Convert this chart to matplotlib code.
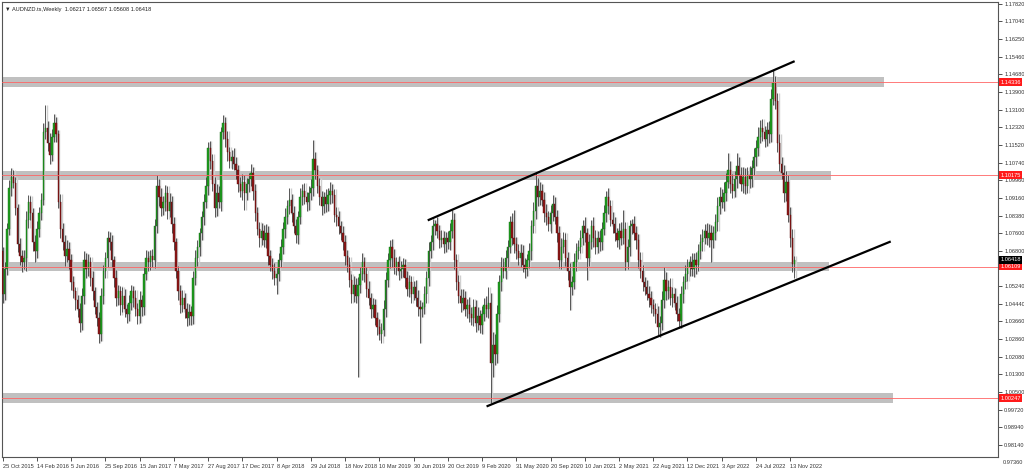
import matplotlib.pyplot as plt
import numpy as np
import pandas as pd

# AUDNZD weekly candles (open = previous close)
title = "\u25bc AUDNZD.ts,Weekly  1.06217 1.06567 1.05608 1.06418"
first_date = "2015-10-25"
first_open = 1.0680

closes = [
    1.0490, 1.0600, 1.0780, 1.0960, 1.1010, 1.0985, 1.0870, 1.0710, 1.0660, 1.0630,
    1.0650, 1.0820, 1.0900, 1.0850, 1.0720, 1.0680, 1.0780, 1.0850, 1.0910, 1.1210,
    1.1230, 1.1160, 1.1110, 1.1190, 1.1250, 1.1200, 1.0900, 1.0780, 1.0720, 1.0660,
    1.0690, 1.0640, 1.0540, 1.0500, 1.0460, 1.0420, 1.0360, 1.0480, 1.0640, 1.0600,
    1.0630, 1.0560, 1.0500, 1.0430, 1.0380, 1.0310, 1.0480, 1.0590, 1.0650, 1.0740,
    1.0720, 1.0640, 1.0560, 1.0470, 1.0500, 1.0440, 1.0480, 1.0420, 1.0400, 1.0450,
    1.0500, 1.0470, 1.0420, 1.0390, 1.0460, 1.0430, 1.0580, 1.0650, 1.0630, 1.0660,
    1.0640, 1.0790, 1.0970, 1.0920, 1.0870, 1.0900, 1.0940, 1.0860, 1.0900, 1.0800,
    1.0720, 1.0590, 1.0500, 1.0440, 1.0470, 1.0420, 1.0380, 1.0410, 1.0390, 1.0560,
    1.0650, 1.0700, 1.0760, 1.0830, 1.0900, 1.0970, 1.1140, 1.1080, 1.0980, 1.0870,
    1.0940, 1.0900, 1.1210, 1.1250, 1.1180, 1.1120, 1.1080, 1.1100, 1.1070, 1.1040,
    1.0980, 1.0950, 1.0990, 1.0940, 1.0980, 1.1000, 1.1030, 1.0950, 1.0850, 1.0780,
    1.0740, 1.0770, 1.0730, 1.0760, 1.0660, 1.0620, 1.0590, 1.0560, 1.0580, 1.0640,
    1.0700, 1.0780, 1.0830, 1.0880, 1.0910, 1.0850, 1.0790, 1.0750, 1.0830, 1.0920,
    1.0950, 1.0920, 1.0900, 1.0940, 1.0960, 1.1090, 1.1040, 1.0970, 1.0920, 1.0880,
    1.0920, 1.0890, 1.0930, 1.0950, 1.0930, 1.0840, 1.0830, 1.0790, 1.0760, 1.0720,
    1.0660, 1.0620, 1.0550, 1.0490, 1.0530, 1.0480, 1.0530, 1.0580, 1.0630, 1.0580,
    1.0510, 1.0470, 1.0420, 1.0440, 1.0380, 1.0340, 1.0310, 1.0330, 1.0420, 1.0550,
    1.0640, 1.0700, 1.0650, 1.0610, 1.0630, 1.0590, 1.0600, 1.0620, 1.0560, 1.0510,
    1.0540, 1.0490, 1.0520, 1.0470, 1.0430, 1.0420, 1.0430, 1.0490, 1.0560, 1.0680,
    1.0720, 1.0790, 1.0800, 1.0770, 1.0730, 1.0740, 1.0710, 1.0740, 1.0720, 1.0770,
    1.0820, 1.0640, 1.0540, 1.0480, 1.0450, 1.0470, 1.0420, 1.0440, 1.0400, 1.0380,
    1.0430, 1.0360, 1.0390, 1.0350, 1.0400, 1.0440, 1.0420, 1.0450, 1.0180, 1.0260,
    1.0220, 1.0400, 1.0540, 1.0610, 1.0590, 1.0650, 1.0700, 1.0810, 1.0740, 1.0710,
    1.0680, 1.0650, 1.0670, 1.0620, 1.0600, 1.0640, 1.0680, 1.0790, 1.0860, 1.0970,
    1.0920, 1.0950, 1.0910, 1.0850, 1.0830, 1.0800, 1.0850, 1.0890, 1.0830, 1.0760,
    1.0640, 1.0700, 1.0730, 1.0650, 1.0590, 1.0520, 1.0540, 1.0630, 1.0680, 1.0700,
    1.0740, 1.0790, 1.0760, 1.0650, 1.0720, 1.0790, 1.0740, 1.0700, 1.0740, 1.0720,
    1.0780, 1.0850, 1.0920, 1.0880, 1.0820, 1.0800, 1.0760, 1.0730, 1.0770, 1.0740,
    1.0780, 1.0630, 1.0700, 1.0790, 1.0800, 1.0760, 1.0730, 1.0640, 1.0590, 1.0540,
    1.0520, 1.0490, 1.0470, 1.0440, 1.0420, 1.0400, 1.0340, 1.0360, 1.0460, 1.0550,
    1.0500, 1.0520, 1.0470, 1.0490, 1.0450, 1.0400, 1.0370, 1.0490, 1.0540, 1.0580,
    1.0610, 1.0630, 1.0600, 1.0640, 1.0620, 1.0680, 1.0720, 1.0740, 1.0770, 1.0740,
    1.0760, 1.0730, 1.0760, 1.0810, 1.0880, 1.0920, 1.0900, 1.0940, 1.0990, 1.1040,
    1.0980, 1.0950, 1.1000, 1.1060, 1.1020, 1.0980, 1.1010, 1.0970, 1.1020, 1.1000,
    1.1050, 1.1100, 1.1140, 1.1190, 1.1230, 1.1210, 1.1180, 1.1220, 1.1200, 1.1360,
    1.1430, 1.1350, 1.1160, 1.1070, 1.1030, 1.0940, 1.0990, 1.0840, 1.0740, 1.06217,
    1.06418,
]

# upper / lower shadow length of each candle, in pips
wick_up = [
    20, 30, 25, 35, 40, 30, 25, 20, 30, 25,  35, 40, 30, 25, 20, 30, 35, 25, 30, 40,
    100, 30, 45, 35, 40, 30, 20, 35, 25, 30,  40, 30, 25, 30, 20, 25, 30, 35, 40, 30,
    35, 25, 30, 20, 25, 30, 35, 30, 25, 30,  25, 30, 20, 35, 30, 25, 40, 30, 25, 35,
    30, 25, 35, 30, 40, 25, 30, 35, 30, 25,  30, 35, 50, 30, 40, 25, 35, 30, 40, 25,
    30, 20, 25, 30, 35, 25, 30, 35, 25, 30,  35, 30, 25, 30, 35, 40, 25, 30, 35, 30,
    40, 30, 25, 37, 30, 35, 25, 30, 40, 30,  25, 30, 35, 30, 25, 30, 40, 25, 30, 25,
    30, 35, 25, 40, 30, 25, 30, 35, 25, 30,  35, 30, 40, 30, 50, 25, 30, 35, 30, 40,
    30, 35, 25, 30, 40, 85, 30, 25, 35, 30,  25, 35, 30, 40, 30, 25, 35, 30, 25, 30,
    30, 25, 35, 30, 40, 30, 35, 30, 40, 25,  30, 35, 25, 30, 25, 30, 35, 30, 40, 35,
    30, 30, 35, 40, 25, 30, 35, 30, 25, 30,  35, 30, 25, 30, 35, 30, 25, 35, 30, 40,
    30, 35, 20, 30, 25, 35, 30, 25, 30, 35,  43, 30, 25, 35, 30, 40, 30, 25, 35, 30,
    35, 30, 40, 25, 35, 30, 40, 70, 45, 60,  50, 40, 35, 45, 40, 35, 30, 25, 40, 123,
    35, 30, 40, 35, 30, 25, 35, 30, 40, 58,  35, 40, 30, 35, 40, 30, 35, 40, 30, 35,
    30, 40, 35, 30, 25, 35, 30, 40, 35, 30,  35, 30, 40, 25, 35, 30, 40, 35, 30, 35,
    30, 35, 30, 40, 30, 35, 30, 25, 35, 40,  83, 30, 35, 30, 25, 35, 30, 25, 35, 30,
    25, 30, 35, 30, 25, 30, 35, 30, 40, 60,  35, 30, 40, 30, 25, 30, 25, 35, 30, 40,
    35, 30, 40, 30, 35, 30, 35, 40, 30, 35,  40, 35, 30, 35, 40, 45, 35, 50, 40, 77,
    40, 45, 35, 57, 40, 35, 45, 40, 35, 40,  35, 40, 35, 45, 35, 40, 30, 35, 40, 45,
    58, 30, 35, 40, 30, 35, 45, 30, 35, 40, 15,
]
wick_dn = [
    40, 30, 25, 30, 35, 25, 30, 35, 40, 45,  30, 60, 35, 30, 40, 50, 30, 35, 30, 25,
    30, 35, 40, 30, 25, 35, 30, 40, 35, 45,  30, 40, 35, 30, 45, 35, 40, 30, 35, 40,
    30, 35, 40, 30, 35, 40, 30, 35, 30, 40,  35, 30, 40, 35, 30, 45, 30, 35, 40, 30,
    35, 40, 30, 35, 30, 40, 35, 30, 40, 35,  30, 35, 30, 40, 35, 30, 40, 35, 30, 40,
    35, 30, 40, 35, 30, 40, 35, 30, 40, 35,  30, 35, 40, 30, 35, 30, 40, 35, 30, 40,
    35, 30, 40, 30, 35, 40, 30, 35, 30, 40,  35, 30, 40, 77, 30, 35, 30, 40, 35, 30,
    40, 35, 30, 35, 40, 30, 35, 30, 70, 35,  30, 35, 40, 30, 35, 40, 30, 35, 40, 30,
    35, 30, 40, 35, 30, 35, 40, 30, 35, 40,  30, 35, 30, 40, 35, 30, 40, 35, 30, 35,
    40, 35, 30, 40, 35, 30, 362, 35, 30, 40,  35, 30, 40, 35, 30, 35, 27, 40, 30, 35,
    30, 35, 40, 30, 35, 40, 30, 35, 40, 30,  35, 40, 30, 35, 40, 150, 35, 30, 40, 35,
    30, 35, 40, 30, 35, 30, 40, 35, 30, 35,  30, 40, 35, 30, 40, 35, 30, 40, 35, 30,
    35, 40, 30, 35, 40, 30, 35, 40, 178, 60,  50, 40, 35, 40, 30, 35, 40, 30, 35, 40,
    35, 30, 40, 35, 40, 30, 35, 40, 30, 35,  40, 35, 30, 40, 35, 30, 40, 35, 30, 40,
    35, 40, 30, 35, 40, 103, 35, 30, 40, 35,  30, 35, 40, 100, 35, 30, 40, 35, 30, 40,
    35, 30, 40, 35, 30, 40, 35, 30, 40, 35,  30, 35, 30, 40, 35, 30, 40, 35, 30, 40,
    35, 30, 40, 35, 30, 40, 35, 43, 30, 35,  40, 35, 30, 40, 35, 30, 33, 35, 40, 30,
    35, 40, 30, 35, 40, 30, 35, 40, 30, 35,  40, 100, 35, 30, 40, 35, 30, 40, 35, 30,
    40, 35, 30, 40, 35, 30, 40, 35, 30, 40,  35, 30, 40, 35, 30, 40, 35, 30, 40, 35,
    30, 35, 40, 35, 30, 40, 35, 30, 40, 35, 61,
]

# horizontal support / resistance zones
zone_levels = [1.14336, 1.10175, 1.06109, 1.00247]
zone_end = [412, 387, 386, 416]          # bar where the grey box stops
last_price = 1.06418

# channel lines (bar index, price)
upper_line = ([199.1, 369.6], [1.0819, 1.1525])
lower_line = ([226.6, 414.5], [0.9989, 1.0721])

price_ticks = [1.17820, 1.17040, 1.16250, 1.15460, 1.14680, 1.13900, 1.13100,
               1.12320, 1.11520, 1.10740, 1.09960, 1.09160, 1.08380, 1.07600,
               1.06800, 1.05240, 1.04440, 1.03660, 1.02860, 1.02080, 1.01300,
               1.00500, 0.99720, 0.98940, 0.98140]
bottom_tick = 0.97360

plt.rcParams['font.family'] = ['Liberation Sans', 'DejaVu Sans']
fs = 4.1

c = np.array(closes)
o = np.concatenate([[first_open], c[:-1]])
hi = np.maximum(o, c) + np.array(wick_up) / 10000
lo = np.minimum(o, c) - np.array(wick_dn) / 10000
idx = np.arange(len(c))
dates = pd.date_range(first_date, periods=len(c), freq="7D")

fig = plt.figure(figsize=(10.24, 4.75), dpi=100)
ax = fig.add_axes([2 / 1024, 18 / 475, 996 / 1024, 455 / 475])
ax.set_xlim(-0.3, 465.1)
ax.set_ylim(0.97616, 1.17909)

up = c >= o
body_lo = np.minimum(o, c)
body_h = np.maximum(np.abs(c - o), 0.00025)

# grey zones behind the candles
for lvl, end in zip(zone_levels, zone_end):
    ax.fill_between([-0.3, end], lvl - 0.0021, lvl + 0.0021, color="#c0c0c0", lw=0, zorder=1)

# light grey "ghost" of every candle, shifted right
sh = 0.55
ax.vlines(idx + sh, lo, hi, color="#cfcfcf", lw=1.0, zorder=1.5)
ax.bar(idx + sh, body_h, bottom=body_lo, width=0.85, color="#cfcfcf", lw=0, zorder=1.6)

# candles
ax.vlines(idx, lo, hi, color="#3c3c3c", lw=0.6, zorder=2)
ax.bar(idx[up], body_h[up], bottom=body_lo[up], width=0.62,
       color="#1f9e1f", edgecolor="#156b15", lw=0.3, zorder=3)
ax.bar(idx[~up], body_h[~up], bottom=body_lo[~up], width=0.62,
       color="#8e1616", edgecolor="#5a0e0e", lw=0.3, zorder=3)

# red level lines over full width
for lvl in zone_levels:
    ax.axhline(lvl, color="#ff6464", lw=0.6, zorder=4)

ax.plot(upper_line[0], upper_line[1], color="black", lw=1.6, zorder=5)
ax.plot(lower_line[0], lower_line[1], color="black", lw=1.6, zorder=5)

# axes style like the terminal
for s in ax.spines.values():
    s.set_color("#555555")
    s.set_linewidth(0.8)
ax.yaxis.tick_right()
ax.set_yticks(price_ticks)
ax.set_yticklabels([f"{v:.5f}" for v in price_ticks])
ax.tick_params(axis="y", direction="out", length=3, width=0.6, pad=1.5,
               labelsize=fs, colors="#333333")
ticks_x = idx[::16]
ax.set_xticks(ticks_x)
ax.set_xticklabels([f"{d.day} {d.strftime('%b %Y')}" for d in dates[::16]], ha="left")
ax.tick_params(axis="x", direction="out", length=3, width=0.6, pad=2,
               labelsize=fs, colors="#333333")
ytr = ax.get_yaxis_transform()
ax.text(1.0045, bottom_tick, f"{bottom_tick:.5f}", transform=ytr, fontsize=fs,
        color="#333333", va="center", ha="left", clip_on=False)

# price labels on the right axis
for lvl in zone_levels:
    ax.text(1.0025, lvl, f"{lvl:.5f}", transform=ytr, fontsize=fs, color="white",
            va="center", ha="left", clip_on=False, zorder=6,
            bbox=dict(boxstyle="square,pad=0.25", fc="#ff1a1a", ec="none"))
ax.text(1.0025, last_price, f"{last_price:.5f}", transform=ytr, fontsize=fs, color="white",
        va="center", ha="left", clip_on=False, zorder=6,
        bbox=dict(boxstyle="square,pad=0.25", fc="black", ec="none"))

ax.text(0.003, 0.99, title, transform=ax.transAxes, fontsize=fs, color="#222222",
        va="top", ha="left")

fig.savefig("out.png", dpi=100, facecolor="white")
